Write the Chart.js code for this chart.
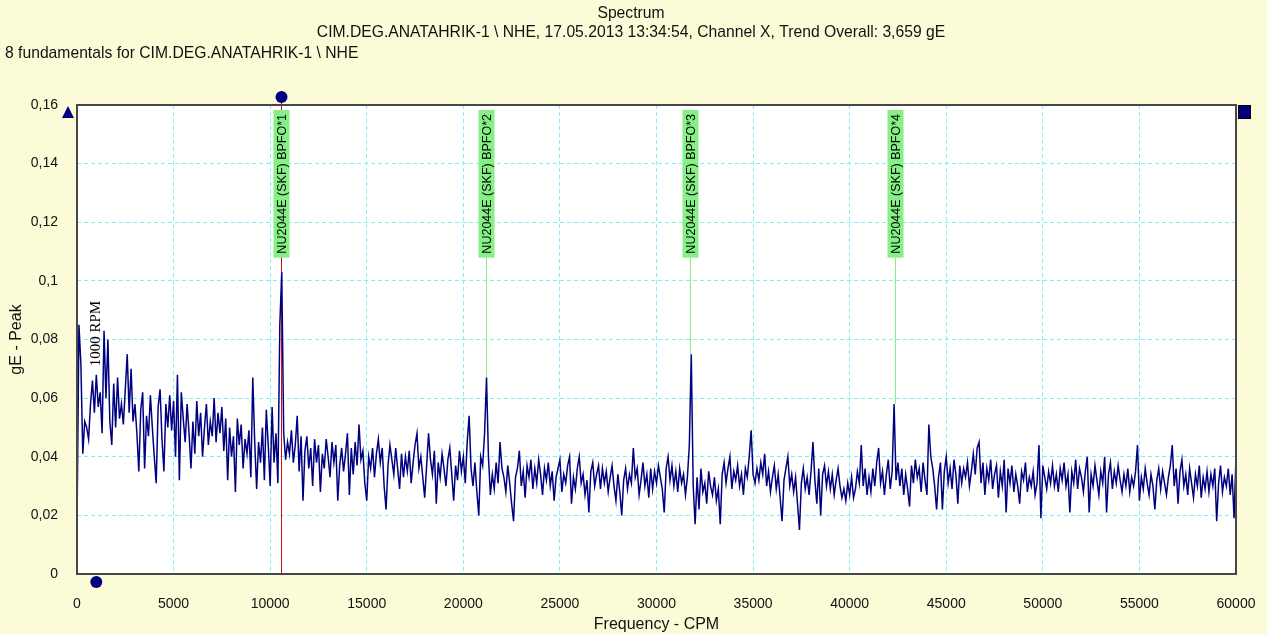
<!DOCTYPE html>
<html>
<head>
<meta charset="utf-8">
<title>Spectrum</title>
<script src="https://cdn.jsdelivr.net/npm/chart.js@4.4.1/dist/chart.umd.min.js"></script>
<style>
  html, body { margin: 0; padding: 0; background: #fbfbd8; }
  canvas { display: block; }
</style>
</head>
<body>
<canvas id="spectrum" width="1267" height="634"></canvas>
<script>
// spectrum lines, one value every 100 CPM (gE peak)
const FREQ_STEP = 100;

const spec00 = [
  0.016, 0.085, 0.072, 0.041, 0.052, 0.050, 0.046, 0.058, 0.066, 0.055,
  0.068, 0.057, 0.062, 0.048, 0.083, 0.060, 0.080, 0.052, 0.044, 0.065,
  0.050, 0.067, 0.053, 0.058, 0.051, 0.063, 0.075, 0.055, 0.070, 0.052,
  0.058, 0.048, 0.035, 0.056, 0.062, 0.036, 0.054, 0.047, 0.061, 0.050,
  0.040, 0.031, 0.057, 0.063, 0.046, 0.035, 0.058, 0.050, 0.061, 0.049
];
const spec05 = [
  0.059, 0.040, 0.068, 0.032, 0.062, 0.053, 0.045, 0.058, 0.048, 0.036,
  0.052, 0.041, 0.059, 0.047, 0.055, 0.040, 0.050, 0.058, 0.044, 0.052,
  0.047, 0.060, 0.045, 0.055, 0.048, 0.057, 0.042, 0.053, 0.032, 0.050,
  0.040, 0.047, 0.028, 0.053, 0.044, 0.051, 0.036, 0.046, 0.041, 0.049,
  0.033, 0.067, 0.045, 0.029, 0.045, 0.038, 0.050, 0.032, 0.056, 0.044
];
const spec10 = [
  0.030, 0.057, 0.038, 0.048, 0.031, 0.085, 0.103, 0.048, 0.039, 0.045,
  0.041, 0.049, 0.038, 0.044, 0.054, 0.035, 0.047, 0.025, 0.042, 0.047,
  0.036, 0.043, 0.030, 0.046, 0.038, 0.044, 0.028, 0.041, 0.036, 0.046,
  0.040, 0.033, 0.045, 0.038, 0.044, 0.025, 0.037, 0.043, 0.035, 0.041,
  0.048, 0.027, 0.043, 0.034, 0.045, 0.037, 0.051, 0.039, 0.042, 0.031
];
const spec15 = [
  0.025, 0.040, 0.036, 0.043, 0.033, 0.041, 0.046, 0.038, 0.043, 0.030,
  0.022, 0.037, 0.044, 0.039, 0.034, 0.043, 0.036, 0.029, 0.041, 0.033,
  0.040, 0.035, 0.042, 0.031, 0.038, 0.044, 0.048, 0.036, 0.040, 0.033,
  0.026, 0.037, 0.048, 0.039, 0.034, 0.042, 0.024, 0.038, 0.033, 0.041,
  0.036, 0.030, 0.039, 0.043, 0.034, 0.025, 0.037, 0.032, 0.042, 0.035
];
const spec20 = [
  0.040, 0.031, 0.045, 0.054, 0.036, 0.030, 0.038, 0.028, 0.020, 0.040,
  0.037, 0.048, 0.067, 0.040, 0.027, 0.034, 0.029, 0.038, 0.031, 0.045,
  0.036, 0.033, 0.028, 0.037, 0.031, 0.024, 0.018, 0.033, 0.036, 0.042,
  0.030, 0.035, 0.026, 0.037, 0.033, 0.039, 0.029, 0.036, 0.031, 0.039,
  0.034, 0.027, 0.036, 0.032, 0.038, 0.030, 0.035, 0.025, 0.033, 0.036
];
const spec25 = [
  0.039, 0.028, 0.034, 0.031, 0.037, 0.040, 0.024, 0.033, 0.029, 0.036,
  0.040, 0.031, 0.034, 0.027, 0.032, 0.021, 0.035, 0.038, 0.030, 0.034,
  0.037, 0.029, 0.036, 0.031, 0.035, 0.028, 0.033, 0.037, 0.030, 0.025,
  0.034, 0.028, 0.020, 0.032, 0.036, 0.029, 0.034, 0.031, 0.043, 0.033,
  0.036, 0.027, 0.032, 0.038, 0.030, 0.034, 0.026, 0.036, 0.029, 0.035
];
const spec30 = [
  0.031, 0.037, 0.033, 0.029, 0.021, 0.036, 0.040, 0.032, 0.037, 0.030,
  0.035, 0.028, 0.036, 0.031, 0.034, 0.027, 0.033, 0.044, 0.075, 0.030,
  0.017, 0.033, 0.022, 0.036, 0.028, 0.031, 0.024, 0.035, 0.030, 0.027,
  0.033, 0.025, 0.029, 0.017, 0.034, 0.038, 0.031, 0.036, 0.040, 0.029,
  0.035, 0.032, 0.037, 0.030, 0.034, 0.027, 0.036, 0.033, 0.040, 0.049
];
const spec35 = [
  0.034, 0.031, 0.036, 0.032, 0.038, 0.034, 0.041, 0.030, 0.035, 0.028,
  0.033, 0.037, 0.029, 0.034, 0.026, 0.018, 0.032, 0.036, 0.040, 0.030,
  0.034, 0.028, 0.033, 0.024, 0.015, 0.031, 0.036, 0.029, 0.033, 0.027,
  0.035, 0.045, 0.032, 0.024, 0.036, 0.020, 0.034, 0.037, 0.030, 0.035,
  0.029, 0.034, 0.027, 0.032, 0.036, 0.030, 0.026, 0.029, 0.025, 0.031
];
const spec40 = [
  0.027, 0.033, 0.026, 0.029, 0.035, 0.031, 0.044, 0.030, 0.036, 0.027,
  0.033, 0.028, 0.036, 0.030, 0.038, 0.043, 0.031, 0.035, 0.027, 0.034,
  0.039, 0.029, 0.035, 0.058, 0.032, 0.038, 0.030, 0.036, 0.027, 0.034,
  0.029, 0.023, 0.037, 0.031, 0.039, 0.033, 0.036, 0.028, 0.038, 0.032,
  0.027, 0.051, 0.040, 0.036, 0.030, 0.022, 0.033, 0.038, 0.022, 0.035
];
const spec45 = [
  0.040, 0.031, 0.036, 0.029, 0.039, 0.034, 0.024, 0.037, 0.031, 0.036,
  0.033, 0.038, 0.030, 0.035, 0.041, 0.034, 0.043, 0.045, 0.031, 0.038,
  0.027, 0.036, 0.032, 0.039, 0.029, 0.034, 0.037, 0.026, 0.035, 0.030,
  0.039, 0.021, 0.036, 0.031, 0.037, 0.028, 0.034, 0.030, 0.024, 0.035,
  0.032, 0.038, 0.028, 0.033, 0.030, 0.035, 0.027, 0.031, 0.044, 0.019
];
const spec50 = [
  0.037, 0.033, 0.029, 0.035, 0.031, 0.037, 0.030, 0.034, 0.028, 0.036,
  0.032, 0.038, 0.030, 0.034, 0.021, 0.035, 0.031, 0.039, 0.029, 0.036,
  0.033, 0.028, 0.035, 0.040, 0.021, 0.034, 0.030, 0.037, 0.032, 0.027,
  0.035, 0.031, 0.040, 0.021, 0.034, 0.038, 0.029, 0.035, 0.031, 0.037,
  0.032, 0.028, 0.034, 0.030, 0.036, 0.028, 0.033, 0.030, 0.035, 0.044
];
const spec55 = [
  0.025, 0.033, 0.029, 0.036, 0.031, 0.027, 0.034, 0.030, 0.022, 0.032,
  0.036, 0.029, 0.035, 0.031, 0.027, 0.033, 0.037, 0.044, 0.030, 0.036,
  0.024, 0.035, 0.039, 0.030, 0.034, 0.027, 0.036, 0.031, 0.026, 0.034,
  0.030, 0.037, 0.026, 0.033, 0.029, 0.035, 0.028, 0.034, 0.030, 0.036,
  0.018, 0.031, 0.037, 0.028, 0.033, 0.030, 0.036, 0.027, 0.034, 0.019
];
const spec60 = [0.040];

const amplitudes = [].concat(spec00, spec05, spec10, spec15, spec20, spec25,
  spec30, spec35, spec40, spec45, spec50, spec55, spec60);

// bearing fault frequency markers
const harmonicFreqs = [10585, 21170, 31755, 42340];
const harmonicLabels = [
  "NU2044E (SKF) BPFO*1",
  "NU2044E (SKF) BPFO*2",
  "NU2044E (SKF) BPFO*3",
  "NU2044E (SKF) BPFO*4"
];
const speedFreq = 1000;
const speedLabel = "1000 RPM";
const speedLabelLevel = 0.082;

const yTickValues = [0, 0.02, 0.04, 0.06, 0.08, 0.1, 0.12, 0.14, 0.16];

const titleText = "Spectrum";
const subtitleText = "CIM.DEG.ANATAHRIK-1 \\ NHE, 17.05.2013 13:34:54, Channel X, Trend Overall: 3,659 gE";
const infoText = "8 fundamentals for CIM.DEG.ANATAHRIK-1 \\ NHE";
const yTitle = "gE - Peak";
const xTitle = "Frequency - CPM";

const FONT = "'Liberation Sans', Arial, sans-serif";
const NAVY = "#000080";
const LABEL_FONT = "12.5px " + FONT;

const points = amplitudes.map((v, i) => ({ x: i * FREQ_STEP, y: v }));

function labelBoxHeight(ctx, label) {
  ctx.save();
  ctx.font = LABEL_FONT;
  const h = ctx.measureText(label).width + 8;
  ctx.restore();
  return h;
}

const decorations = {
  id: "decorations",
  beforeDraw(chart) {
    const { ctx, chartArea: a } = chart;
    ctx.save();
    ctx.fillStyle = "#fbfbd8";
    ctx.fillRect(0, 0, chart.width, chart.height);
    ctx.fillStyle = "#ffffff";
    ctx.fillRect(a.left, a.top, a.right - a.left, a.bottom - a.top);
    ctx.restore();
  },
  beforeDatasetsDraw(chart) {
    const { ctx, chartArea: a, scales } = chart;
    ctx.save();
    harmonicFreqs.forEach((f, k) => {
      const x = Math.round(scales.x.getPixelForValue(f)) + 0.5;
      if (k === 0) {
        // cursor line
        ctx.strokeStyle = "#c81010";
        ctx.lineWidth = 1;
        ctx.beginPath();
        ctx.moveTo(x, a.top - 8);
        ctx.lineTo(x, a.bottom);
        ctx.stroke();
      } else {
        const peak = amplitudes[Math.round(f / FREQ_STEP)];
        const boxBottom = a.top + 5 + labelBoxHeight(ctx, harmonicLabels[k]);
        ctx.strokeStyle = "#80f080";
        ctx.lineWidth = 1;
        ctx.beginPath();
        ctx.moveTo(x, boxBottom);
        ctx.lineTo(x, scales.y.getPixelForValue(peak));
        ctx.stroke();
      }
    });
    ctx.restore();
  },
  afterDatasetsDraw(chart) {
    const { ctx, chartArea: a, scales } = chart;
    ctx.save();

    // plot frame
    ctx.strokeStyle = "#474747";
    ctx.lineWidth = 2;
    ctx.strokeRect(a.left, a.top, a.right - a.left, a.bottom - a.top);

    // fault frequency labels
    ctx.font = LABEL_FONT;
    harmonicLabels.forEach((label, k) => {
      const x = Math.round(scales.x.getPixelForValue(harmonicFreqs[k])) + 0.5;
      const h = labelBoxHeight(ctx, label);
      const top = a.top + 5;
      ctx.fillStyle = "#86f086";
      ctx.fillRect(x - 8, top, 16, h);
      ctx.save();
      ctx.translate(x + 1, top + h - 4);
      ctx.rotate(-Math.PI / 2);
      ctx.fillStyle = "#000000";
      ctx.textAlign = "left";
      ctx.textBaseline = "middle";
      ctx.fillText(label, 0, 0);
      ctx.restore();
    });

    // running speed label
    const sx = scales.x.getPixelForValue(speedFreq);
    ctx.save();
    ctx.translate(sx, scales.y.getPixelForValue(speedLabelLevel));
    ctx.rotate(-Math.PI / 2);
    ctx.font = "15px 'Liberation Serif', 'Times New Roman', serif";
    ctx.fillStyle = "#000000";
    ctx.textAlign = "center";
    ctx.textBaseline = "middle";
    ctx.fillText(speedLabel, 0, 0);
    ctx.restore();

    // cursor symbols
    ctx.fillStyle = NAVY;
    const cx = Math.round(scales.x.getPixelForValue(harmonicFreqs[0])) + 0.5;
    ctx.beginPath();
    ctx.arc(cx, a.top - 8, 6, 0, Math.PI * 2);
    ctx.fill();
    ctx.beginPath();
    ctx.arc(sx, a.bottom + 8, 6, 0, Math.PI * 2);
    ctx.fill();
    ctx.beginPath();
    ctx.moveTo(a.left - 15, a.top + 13);
    ctx.lineTo(a.left - 3, a.top + 13);
    ctx.lineTo(a.left - 9, a.top + 1);
    ctx.closePath();
    ctx.fill();
    ctx.fillRect(a.right + 3, a.top + 1, 11, 12);
    ctx.strokeStyle = "#000000";
    ctx.lineWidth = 1;
    ctx.strokeRect(a.right + 2.5, a.top + 0.5, 12, 13);

    // titles
    ctx.fillStyle = "#111111";
    ctx.font = "15.7px " + FONT;
    ctx.textBaseline = "middle";
    ctx.textAlign = "center";
    ctx.fillText(titleText, 631, 14);
    ctx.fillText(subtitleText, 631, 33);
    ctx.font = "16px " + FONT;
    ctx.fillText(xTitle, (a.left + a.right) / 2, 625);
    ctx.save();
    ctx.translate(17, (a.top + a.bottom) / 2);
    ctx.rotate(-Math.PI / 2);
    ctx.fillText(yTitle, 0, 0);
    ctx.restore();
    ctx.font = "15.7px " + FONT;
    ctx.textAlign = "left";
    ctx.fillText(infoText, 5, 54);

    ctx.restore();
  }
};

new Chart(document.getElementById("spectrum"), {
  type: "line",
  data: {
    datasets: [
      {
        label: "Spectrum",
        data: points,
        borderColor: NAVY,
        borderWidth: 1.5,
        pointRadius: 0,
        tension: 0,
        fill: false
      }
    ]
  },
  options: {
    responsive: false,
    animation: false,
    devicePixelRatio: 1,
    layout: { padding: { top: 105, right: 31, left: 0, bottom: 0 } },
    plugins: {
      legend: { display: false },
      title: { display: false },
      tooltip: { enabled: false }
    },
    scales: {
      x: {
        type: "linear",
        min: 0,
        max: 60000,
        afterFit: (scale) => {
          scale.height = 60;
          scale.paddingLeft = 0;
          scale.paddingRight = 0;
        },
        ticks: {
          stepSize: 5000,
          padding: 22,
          maxRotation: 0,
          color: "#111111",
          font: { family: FONT, size: 14 },
          callback: (value) => String(value)
        },
        grid: {
          color: "#7ff0f8",
          lineWidth: 1,
          drawTicks: false
        },
        border: { display: false, dash: [4, 3] }
      },
      y: {
        type: "linear",
        min: 0,
        max: 0.16,
        afterFit: (scale) => {
          scale.width = 77;
          scale.paddingTop = 0;
          scale.paddingBottom = 0;
        },
        afterBuildTicks: (scale) => {
          scale.ticks = yTickValues.map((v) => ({ value: v }));
        },
        ticks: {
          padding: 19,
          color: "#111111",
          font: { family: FONT, size: 14 },
          callback: (value) => String(Math.round(value * 100) / 100).replace(".", ",")
        },
        grid: {
          color: "#7ff0f8",
          lineWidth: 1,
          drawTicks: false
        },
        border: { display: false, dash: [4, 3] }
      }
    }
  },
  plugins: [decorations]
});
</script>
</body>
</html>
